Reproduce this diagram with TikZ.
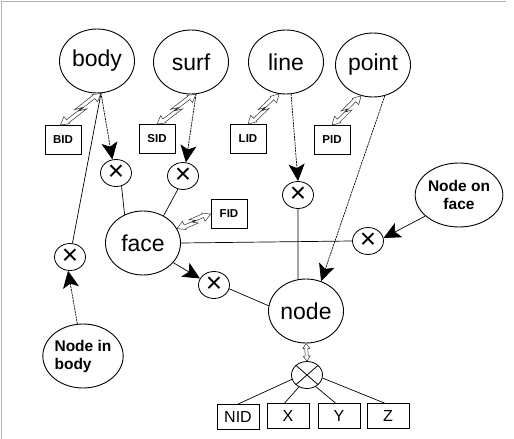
\documentclass[tikz,border=0pt]{standalone}
\usepackage{fontspec}
\setmainfont{Liberation Sans}
\usetikzlibrary{shapes.geometric,arrows.meta,calc}
\tikzstyle{entity}=[ellipse,draw,line width=0.9pt,minimum width=75pt,minimum height=64pt,inner sep=0pt,font=\fontsize{23}{26}\selectfont]
\tikzstyle{idbox}=[rectangle,draw,line width=0.8pt,minimum width=36pt,minimum height=29pt,inner sep=0pt,font=\bfseries\fontsize{11.5}{13}\selectfont]
\tikzstyle{coordbox}=[rectangle,draw,line width=0.8pt,minimum width=42pt,minimum height=25pt,inner sep=0pt,font=\fontsize{16}{18}\selectfont]
\tikzstyle{joint}=[ellipse,draw,line width=0.8pt,minimum width=31pt,minimum height=27pt,inner sep=0pt,font=\fontsize{28}{28}\selectfont]
\tikzstyle{link}=[draw,line width=0.7pt]
\tikzstyle{flow}=[draw,line width=0.7pt,-{Stealth[length=17pt,width=16pt,inset=4pt]}]
\tikzstyle{dotflow}=[flow,dash pattern=on 2pt off 0.8pt]
\tikzstyle{bolt}=[draw=black!80,fill=white,line width=0.5pt,line join=miter]

% hollow double arrow with a lightning kink, from #1 to #2
\newcommand{\boltarrow}[2]{%
  \path[bolt] let \p1=($(#2)-(#1)$), \n1={atan2(\y1,\x1)}, \n2={veclen(\x1,\y1)} in
    [shift={(#1)},rotate=\n1]
    (0pt,0pt) -- (8pt,-4.5pt) -- (8pt,-3.4pt) -- ({0.6*\n2},-3.4pt) -- ({0.46*\n2},-0.4pt)
    -- ({\n2-8pt},-0.4pt) -- ({\n2-8pt},-4.5pt) -- ({\n2},0pt) -- ({\n2-8pt},4.5pt)
    -- ({\n2-8pt},3.4pt) -- ({0.4*\n2},3.4pt) -- ({0.54*\n2},0.4pt) -- (8pt,0.4pt)
    -- (8pt,4.5pt) -- cycle;}
% plain hollow double arrow
\newcommand{\dblarrow}[2]{%
  \path[bolt] let \p1=($(#2)-(#1)$), \n1={atan2(\y1,\x1)}, \n2={veclen(\x1,\y1)} in
    [shift={(#1)},rotate=\n1]
    (0pt,0pt) -- (5pt,-3.5pt) -- (5pt,-1.5pt) -- ({\n2-5pt},-1.5pt) -- ({\n2-5pt},-3.5pt)
    -- ({\n2},0pt) -- ({\n2-5pt},3.5pt) -- ({\n2-5pt},1.5pt) -- (5pt,1.5pt) -- (5pt,3.5pt) -- cycle;}

\begin{document}
\begin{tikzpicture}[x=1pt,y=-1pt]
    \useasboundingbox (0,0) rectangle (514,439);
    \draw[gray!60,line width=1pt] (1,439) -- (1,1) -- (506,1);

    % First we draw the entities
    \foreach \pos/\name in {{(97,61)/body},{(191,62)/surf},{(286,62)/line},{(373,65)/point},{(143,243)/face},{(306,311)/node}}
        \node[entity] (\name) at \pos {\name};
    \node[entity,font=\bfseries\fontsize{15.5}{18}\selectfont,align=left] (nib) at (83,356) {Node in\\body};
    \node[entity,font=\bfseries\fontsize{15.5}{18}\selectfont,align=center] (nof) at (459,195) {Node on\\face};

    % the joints
    \foreach \pos/\name in {{(116,173)/bodyx},{(183,176)/surfx},{(298,195)/linex},{(70,257)/nibx},{(368,241)/nofx},{(214,285)/facex}}
        \node[joint] (\name) at \pos {×};
    \node[joint,path picture={\draw[line width=0.8pt] (path picture bounding box.north west) -- (path picture bounding box.south east)
        (path picture bounding box.south west) -- (path picture bounding box.north east);}] (nodex) at (307,375) {};

    % id and coordinate boxes
    \foreach \pos/\name in {{(63,140)/BID},{(157,139)/SID},{(248,139)/LID},{(332,140)/PID},{(229,214)/FID}}
        \node[idbox] (\name) at \pos {\name};
    \foreach \pos/\name in {{(238,417)/NID},{(288,416)/X},{(339,416)/Y},{(388,416)/Z}}
        \node[coordbox] (\name) at \pos {\name};

    % Connect entities with joints
    \path[dotflow] (body.277) -- (bodyx.105);
    \path[link] (body.277) -- (nibx.80);
    \path[dotflow] (nib.100) -- (nibx.262);
    \path[link] (bodyx.293) -- (face.123);
    \path[dotflow] (surf.279) -- (surfx.78);
    \path[link] (surfx.249) -- (face.53);
    \path[dotflow] (line.279) -- (linex.north);
    \path[link] (linex.south) -- (node.104);
    \path[dotflow] (point.291) -- (node.63);
    \path[link] (face.east) -- (nofx.west);
    \path[flow] (nof.212) -- (nofx.11);
    \path[flow] (face.327) -- (facex.155);
    \path[link] (facex.346) -- (node.172);

    \foreach \source/\dest in {nodex.196/NID.north, nodex.236/X.105, nodex.307/Y.105, nodex.349/Z.105}
        \path[link] (\source) -- (\dest);

    % the id arrows
    \foreach \source/\dest in {BID.100/body.277, SID.north/surf.279, LID.north/line.258, PID.north/point.249, face.23/FID.west}
        \boltarrow{\source}{\dest};
    \dblarrow{node.south}{nodex.north}
\end{tikzpicture}
\end{document}
